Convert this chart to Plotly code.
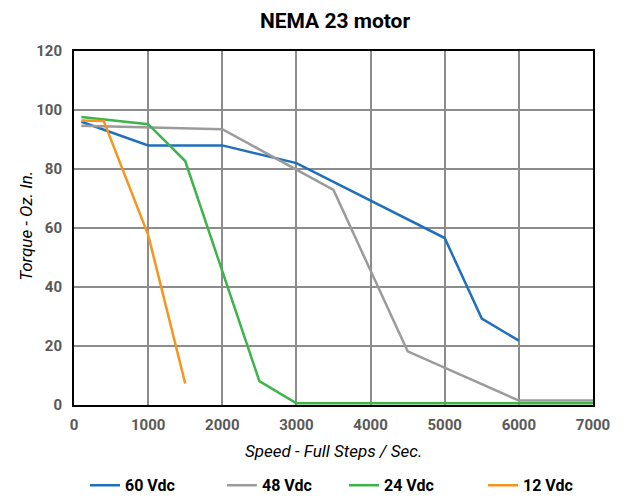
import plotly.graph_objects as go

FONT = "Roboto, Liberation Sans, sans-serif"

speed_60 = [100, 1000, 2000, 3000, 5000, 5500, 6000]
torque_60 = [96, 88, 88, 82, 56.6, 29.3, 21.8]

speed_48 = [100, 2000, 3500, 4500, 6000, 7000]
torque_48 = [94.7, 93.5, 72.9, 18.2, 1.5, 1.5]

speed_24 = [100, 1000, 1500, 2500, 3000, 7000]
torque_24 = [97.6, 95.2, 82.7, 8.1, 0.6, 0.6]

speed_12 = [100, 400, 1000, 1500]
torque_12 = [96.4, 96.3, 57.7, 7.3]

series = [
    ("60 Vdc", speed_60, torque_60, "#1f6fbf"),
    ("48 Vdc", speed_48, torque_48, "#9b9b9b"),
    ("24 Vdc", speed_24, torque_24, "#3cb44a"),
    ("12 Vdc", speed_12, torque_12, "#f7941d"),
]

# one legend per series so the entries sit where the original has them
legend_ids = ["legend", "legend2", "legend3", "legend4"]
legend_x = [0.1248, 0.3468, 0.5446, 0.7699]

fig = go.Figure()
for (name, xs, ys, color), lid in zip(series, legend_ids):
    fig.add_trace(go.Scatter(
        x=xs, y=ys, name=name, mode="lines",
        line={"color": color, "width": 2.5},
        legend=lid,
    ))

legend_style = {
    "orientation": "h",
    "xref": "container", "yref": "container",
    "xanchor": "left",
    "y": 0.024, "yanchor": "middle",
    "font": {"size": 16, "family": FONT, "color": "black", "weight": "bold"},
    "bgcolor": "rgba(0,0,0,0)",
}

fig.update_layout(
    width=617,
    height=489,
    paper_bgcolor="white",
    plot_bgcolor="white",
    font={"family": FONT, "color": "black"},
    margin={"l": 66, "r": 32, "t": 43, "b": 91.5},
    title={
        "text": "<b>NEMA 23 motor</b>",
        "x": 0.530, "xanchor": "center",
        "y": 0.975, "yanchor": "middle",
        "font": {"size": 21, "family": FONT, "color": "black"},
    },
    showlegend=True,
)
for lid, lx in zip(legend_ids, legend_x):
    fig.update_layout({lid: dict(legend_style, x=lx)})

fig.update_xaxes(
    range=[0, 7000],
    dtick=1000,
    automargin=False,
    showgrid=True, gridcolor="#8c8c8c", gridwidth=2,
    showline=True, linecolor="black", linewidth=2, mirror=True,
    zeroline=False,
    ticks="", ticklabelstandoff=5,
    tickfont={"size": 15, "family": FONT, "color": "#595959", "weight": "bold"},
)
fig.update_yaxes(
    range=[0, 120],
    dtick=20,
    automargin=False,
    showgrid=True, gridcolor="#8c8c8c", gridwidth=2,
    showline=True, linecolor="black", linewidth=2, mirror=True,
    zeroline=False,
    ticks="", ticklabelstandoff=7,
    tickfont={"size": 15, "family": FONT, "color": "#595959", "weight": "bold"},
)

fig.add_annotation(
    text="<i>Speed - Full Steps / Sec.</i>",
    xref="paper", yref="paper", x=0.5, y=-0.131,
    xanchor="center", yanchor="middle", showarrow=False,
    font={"size": 17, "family": FONT, "color": "black"},
)
fig.add_annotation(
    text="<i>Torque - Oz. In.</i>",
    xref="paper", yref="paper", x=-0.0925, y=0.506,
    xanchor="center", yanchor="middle", showarrow=False, textangle=-90,
    font={"size": 17, "family": FONT, "color": "black"},
)

fig.write_html("out.html")
